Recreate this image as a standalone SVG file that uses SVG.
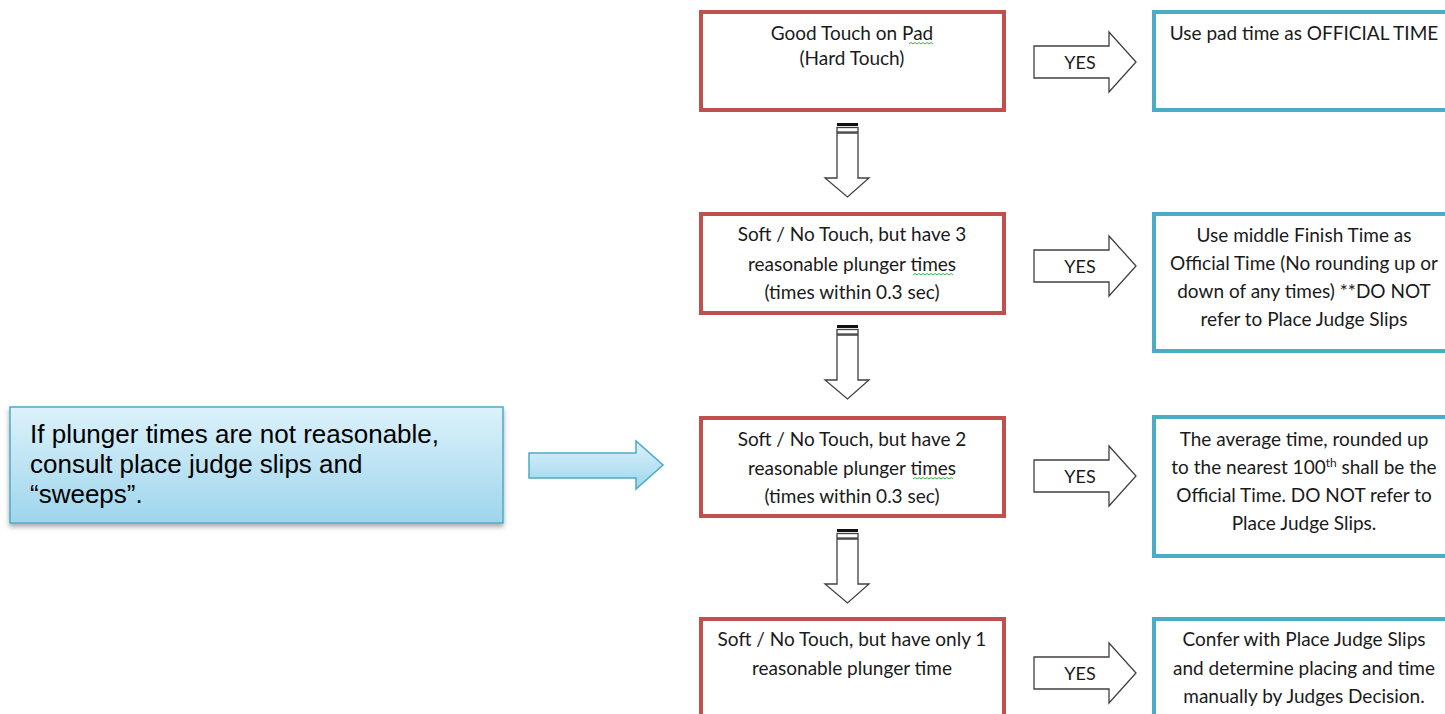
<svg xmlns="http://www.w3.org/2000/svg" width="1445" height="714" viewBox="0 0 1445 714">
<defs>
<style>
.red{fill:#fff;stroke:#c0504d;stroke-width:4}
.blue{fill:#fff;stroke:#4bacc6;stroke-width:4}
.t{font-family:Lato,"Open Sans",sans-serif;font-size:19px;fill:#1a1a1a;text-anchor:middle}
.yes{font-family:Lato,"Open Sans",sans-serif;font-size:18px;fill:#1a1a1a;text-anchor:middle}
.arr{fill:#fff;stroke:#404040;stroke-width:1.3;stroke-linejoin:miter}
.sq{fill:none;stroke:#3cb043;stroke-width:1}
.call{font-family:"Liberation Sans",Arial,sans-serif;font-size:26px;fill:#000}
</style>
<linearGradient id="g" x1="0" y1="0" x2="0" y2="1">
<stop offset="0" stop-color="#dcf2fb"/>
<stop offset="1" stop-color="#9ed5ec"/>
</linearGradient>
<filter id="sh" x="-5%" y="-10%" width="110%" height="130%">
<feDropShadow dx="0" dy="3" stdDeviation="2.5" flood-color="#000" flood-opacity="0.35"/>
</filter>
<g id="down">
<rect x="837" y="0" width="21" height="3" fill="#111"/>
<rect x="837" y="4.5" width="21" height="4.5" class="arr"/>
<polygon class="arr" points="837,10 858,10 858,55 869,55 847.5,74 825,55 837,55"/>
</g>
<g id="right">
<polygon class="arr" points="1034,-16 1109,-16 1109,-30 1136,0 1109,30 1109,16 1034,16"/>
</g>
</defs>

<g id="callout">
<rect x="10" y="407" width="493" height="116" fill="url(#g)" stroke="#4bacc6" stroke-width="1.5" filter="url(#sh)"/>
<text class="call" x="30" y="443">If plunger times are not reasonable,</text>
<text class="call" x="30" y="473">consult place judge slips and</text>
<text class="call" x="30" y="503">“sweeps”.</text>
</g>

<g id="connectors">
<polygon points="529,453 636,453 636,441 663,465 636,489 636,478 529,478" fill="url(#g)" stroke="#4bacc6" stroke-width="1.5"/>
<use href="#down" transform="translate(0,123)"/>
<use href="#down" transform="translate(0,325)"/>
<use href="#down" transform="translate(0,529)"/>
<g transform="translate(0,62)"><use href="#right"/><text class="yes" x="1080" y="7">YES</text></g>
<g transform="translate(0,266)"><use href="#right"/><text class="yes" x="1080" y="7">YES</text></g>
<g transform="translate(0,476)"><use href="#right"/><text class="yes" x="1080" y="7">YES</text></g>
<g transform="translate(0,673)"><use href="#right"/><text class="yes" x="1080" y="7">YES</text></g>
</g>

<g id="q1">
<rect class="red" x="701" y="12" width="303" height="98"/>
<text class="t" x="852" y="40">Good Touch on Pad</text>
<text class="t" x="852" y="65">(Hard Touch)</text>
<path class="sq" d="M909,44 l2,-1.5 l2,1.5 l2,-1.5 l2,1.5 l2,-1.5 l2,1.5 l2,-1.5 l2,1.5 l2,-1.5 l2,1.5 l2,-1.5 l2,1.5"/>
</g>
<g id="q2">
<rect class="red" x="701" y="214" width="303" height="99"/>
<text class="t" x="852" y="241">Soft / No Touch, but have 3</text>
<text class="t" x="852" y="271">reasonable plunger times</text>
<text class="t" x="852" y="299">(times within 0.3 sec)</text>
<path class="sq" d="M913,275 l2,-1.5 l2,1.5 l2,-1.5 l2,1.5 l2,-1.5 l2,1.5 l2,-1.5 l2,1.5 l2,-1.5 l2,1.5 l2,-1.5 l2,1.5 l2,-1.5 l2,1.5 l2,-1.5 l2,1.5 l2,-1.5 l2,1.5 l2,-1.5 l2,1.5"/>
</g>
<g id="q3">
<rect class="red" x="701" y="418" width="303" height="98"/>
<text class="t" x="852" y="446">Soft / No Touch, but have 2</text>
<text class="t" x="852" y="475">reasonable plunger times</text>
<text class="t" x="852" y="503">(times within 0.3 sec)</text>
<path class="sq" d="M913,479 l2,-1.5 l2,1.5 l2,-1.5 l2,1.5 l2,-1.5 l2,1.5 l2,-1.5 l2,1.5 l2,-1.5 l2,1.5 l2,-1.5 l2,1.5 l2,-1.5 l2,1.5 l2,-1.5 l2,1.5 l2,-1.5 l2,1.5 l2,-1.5 l2,1.5"/>
</g>
<g id="q4">
<rect class="red" x="701" y="619" width="303" height="110"/>
<text class="t" x="852" y="646">Soft / No Touch, but have only 1</text>
<text class="t" x="852" y="675">reasonable plunger time</text>
</g>

<g id="a1">
<rect class="blue" x="1154" y="12" width="300" height="98"/>
<text class="t" x="1304" y="40">Use pad time as OFFICIAL TIME</text>
</g>
<g id="a2">
<rect class="blue" x="1154" y="214" width="300" height="137"/>
<text class="t" x="1304" y="242">Use middle Finish Time as</text>
<text class="t" x="1304" y="270">Official Time (No rounding up or</text>
<text class="t" x="1304" y="298">down of any times) **DO NOT</text>
<text class="t" x="1304" y="326">refer to Place Judge Slips</text>
</g>
<g id="a3">
<rect class="blue" x="1154" y="417" width="300" height="139"/>
<text class="t" x="1304" y="446">The average time, rounded up</text>
<text class="t" x="1304" y="474">to the nearest 100<tspan font-size="12" dy="-7">th</tspan><tspan dy="7"> shall be the</tspan></text>
<text class="t" x="1304" y="502">Official Time. DO NOT refer to</text>
<text class="t" x="1304" y="530">Place Judge Slips.</text>
</g>
<g id="a4">
<rect class="blue" x="1154" y="619" width="300" height="110"/>
<text class="t" x="1304" y="646">Confer with Place Judge Slips</text>
<text class="t" x="1304" y="675">and determine placing and time</text>
<text class="t" x="1304" y="703">manually by Judges Decision.</text>
</g>
</svg>
